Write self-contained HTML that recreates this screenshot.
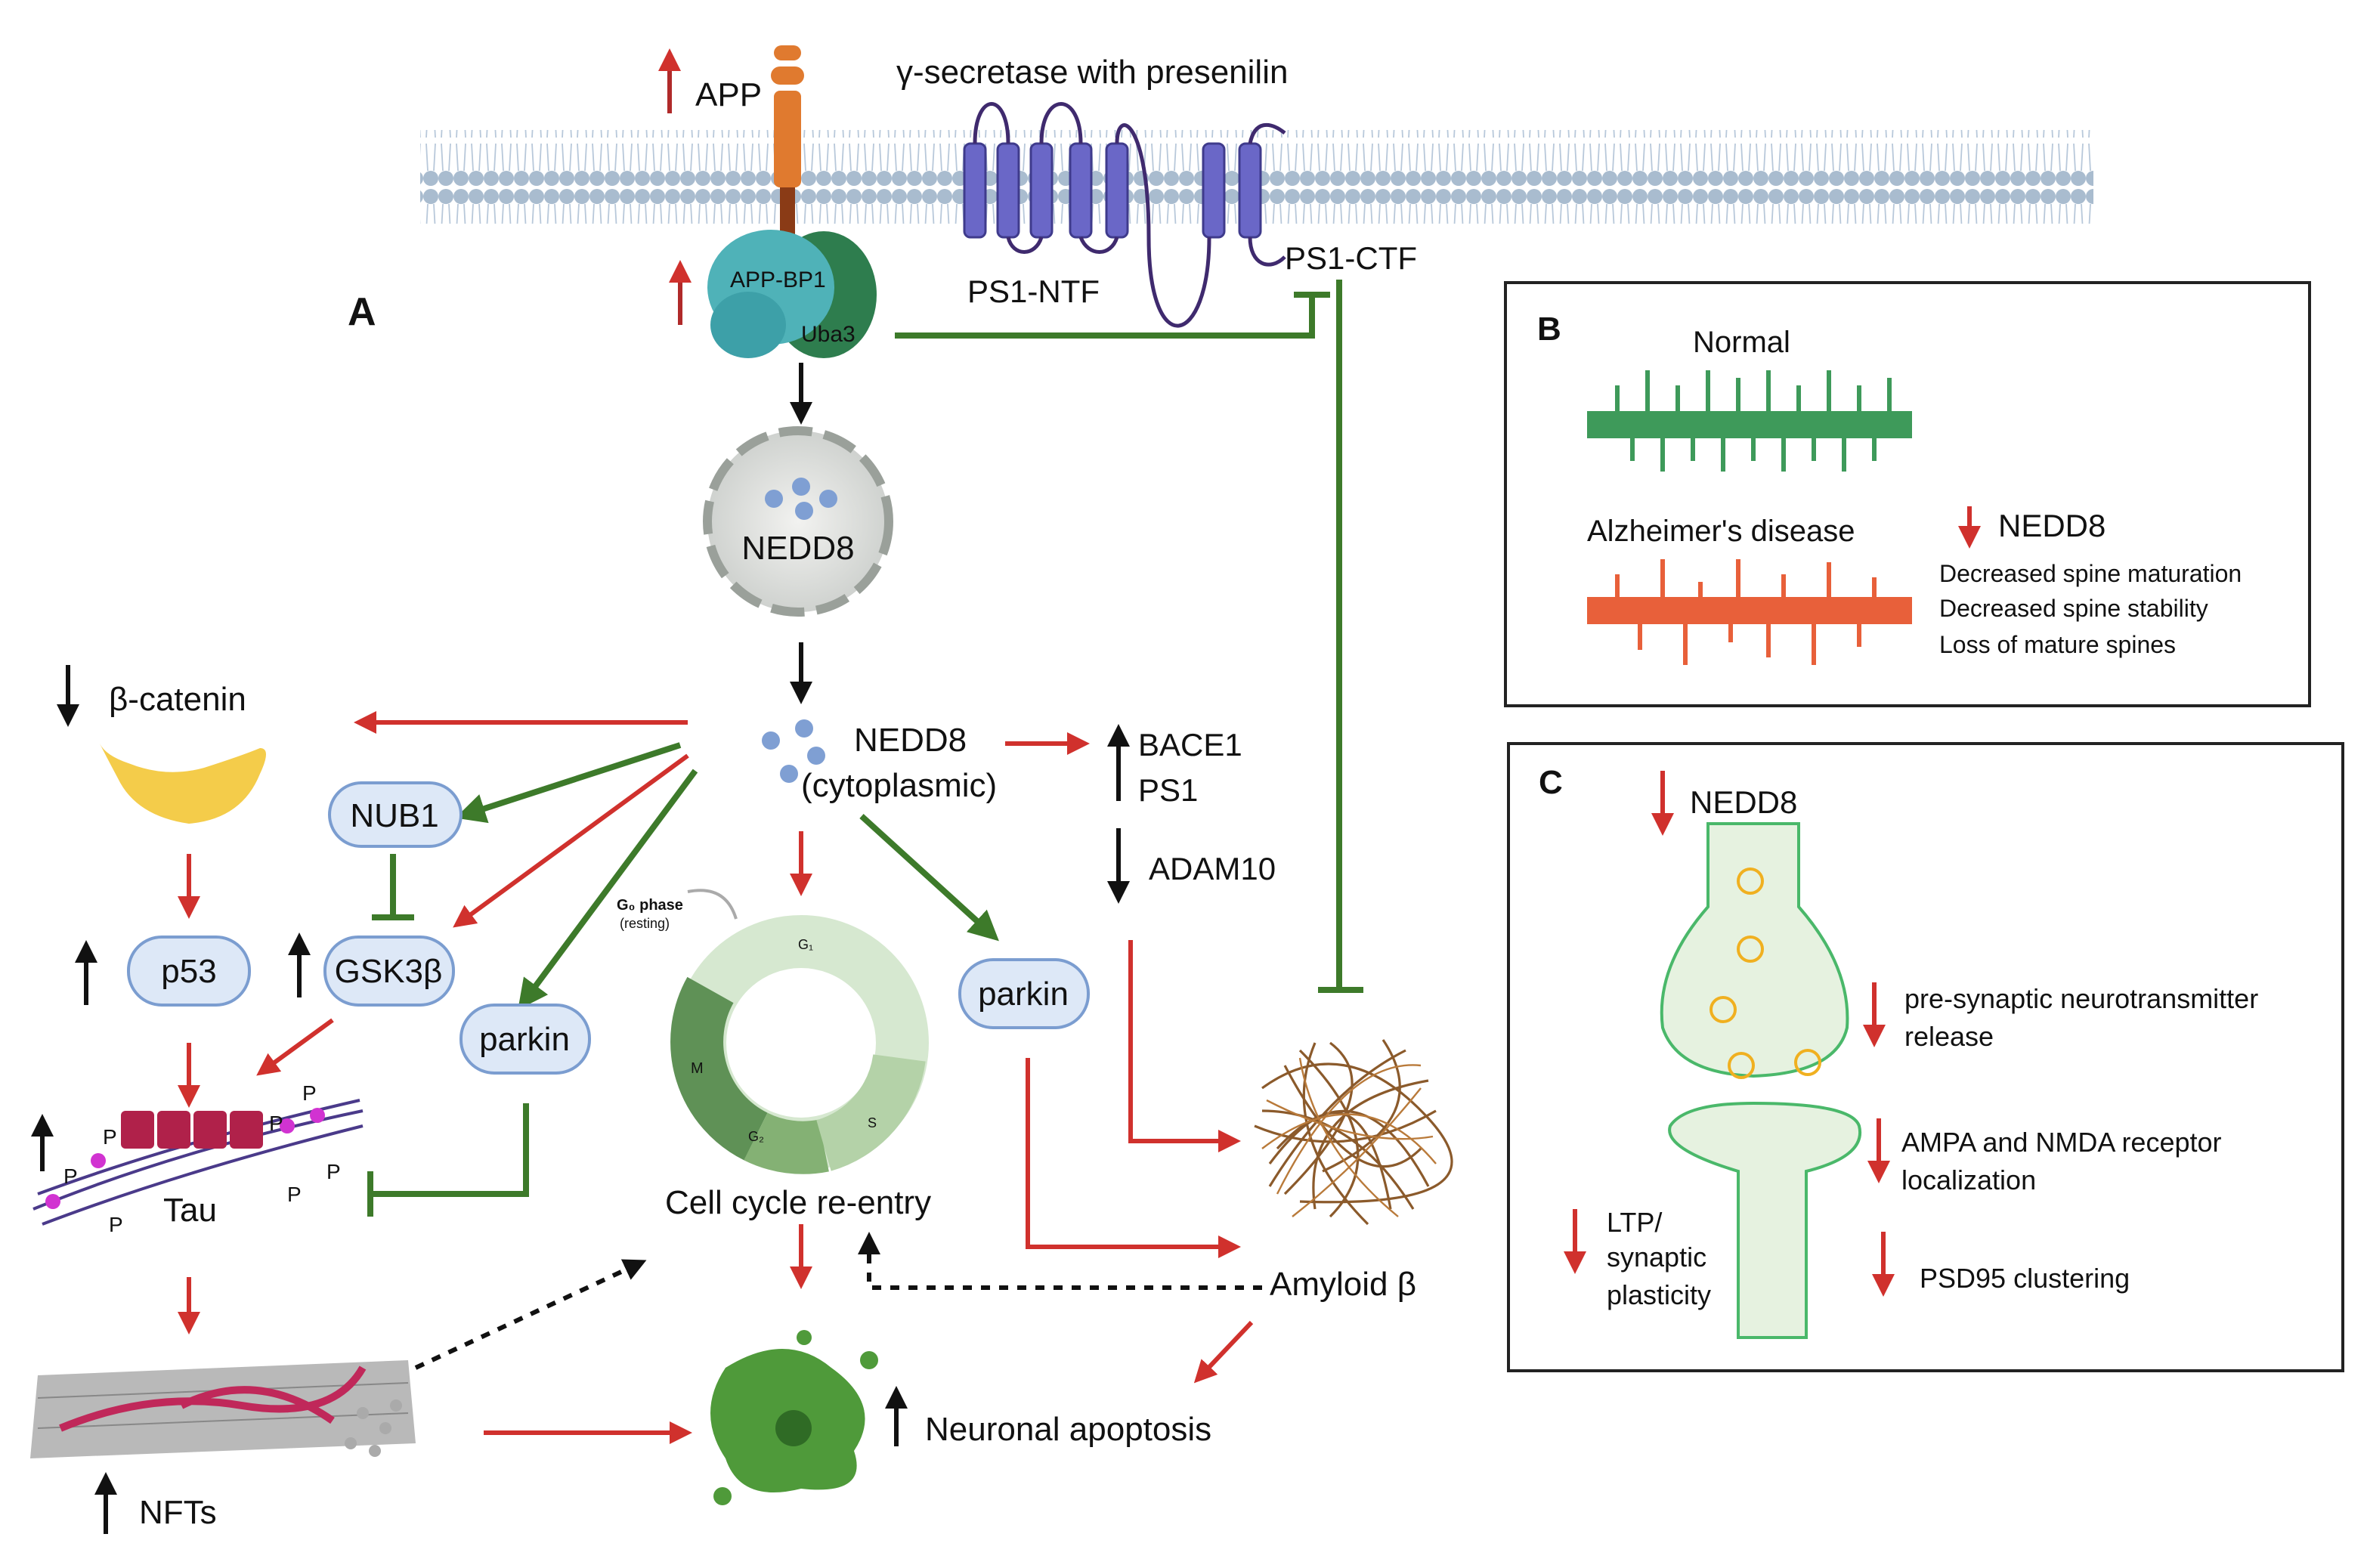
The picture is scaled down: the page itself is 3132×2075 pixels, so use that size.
<!DOCTYPE html>
<html><head><meta charset="utf-8"><style>
html,body{margin:0;padding:0;background:#fff;}
svg{display:block;}
text{font-family:"Liberation Sans","DejaVu Sans",sans-serif;fill:#111;}
</style></head><body>
<svg width="3132" height="2075" viewBox="0 0 1566 1037.5" xmlns="http://www.w3.org/2000/svg">
<defs>
<marker id="ar" viewBox="0 0 10 10" refX="8" refY="5" markerWidth="5" markerHeight="5" orient="auto"><path d="M0,0L10,5L0,10z" fill="#d0312d"/></marker>
<marker id="ab" viewBox="0 0 10 10" refX="8" refY="5" markerWidth="5" markerHeight="5" orient="auto"><path d="M0,0L10,5L0,10z" fill="#111"/></marker>
<marker id="ag" viewBox="0 0 10 10" refX="8" refY="5" markerWidth="5" markerHeight="5" orient="auto"><path d="M0,0L10,5L0,10z" fill="#3d7a2a"/></marker>
<pattern id="mem" width="10" height="62" patternUnits="userSpaceOnUse">
<circle cx="5" cy="6" r="5" fill="#a9bccf"/><circle cx="5" cy="56" r="5" fill="#a9bccf"/>
<path d="M3,11 L2,29 M7,11 L8,29 M3,51 L2,33 M7,51 L8,33" stroke="#b8c8da" stroke-width="0.9" fill="none"/>
</pattern>
<radialGradient id="ng"><stop offset="0" stop-color="#f2f2f0"/><stop offset="1" stop-color="#cfd2cf"/></radialGradient>
</defs>
<rect x="278" y="86" width="1107" height="62" fill="url(#mem)"/>
<!-- APP -->
<rect x="512" y="30" width="18" height="10" rx="5" fill="#e07a2f"/>
<rect x="510" y="44" width="22" height="12" rx="6" fill="#e07a2f"/>
<rect x="512" y="60" width="18" height="64" rx="4" fill="#e07a2f"/>
<rect x="516" y="124" width="10" height="36" fill="#8a3b16"/>
<path d="M443,75V35" stroke="#b02a2a" stroke-width="3" marker-end="url(#ar)"/>
<text x="460" y="70" font-size="22">APP</text>
<text x="593" y="55" font-size="22">γ-secretase with presenilin</text>
<g fill="#6a67c7" stroke="#3f3b8c" stroke-width="1.5">
<rect x="638" y="95" width="14" height="62" rx="4"/><rect x="660" y="95" width="14" height="62" rx="4"/>
<rect x="682" y="95" width="14" height="62" rx="4"/><rect x="708" y="95" width="14" height="62" rx="4"/>
<rect x="732" y="95" width="14" height="62" rx="4"/><rect x="796" y="95" width="14" height="62" rx="4"/>
<rect x="820" y="95" width="14" height="62" rx="4"/>
</g>
<path d="M645,95C645,60 667,60 667,95 M689,95C689,60 715,60 715,95 M739,95C739,70 760,80 760,157 C760,240 800,230 800,157 M827,95C830,80 840,80 850,88 M827,157C827,175 840,180 850,170 M667,157C670,170 685,170 689,157 M715,157 C720,170 735,170 739,157" stroke="#3f2a6e" stroke-width="2.5" fill="none"/>
<text x="640" y="200" font-size="21">PS1-NTF</text>
<text x="850" y="178" font-size="21">PS1-CTF</text>
<ellipse cx="545" cy="195" rx="35" ry="42" fill="#2e7d4e"/>
<ellipse cx="510" cy="190" rx="42" ry="38" fill="#4fb2b8"/>
<ellipse cx="495" cy="215" rx="25" ry="22" fill="#3da0a8"/>
<text x="483" y="190" font-size="15">APP-BP1</text>
<text x="530" y="226" font-size="15">Uba3</text>
<path d="M450,215V175" stroke="#b02a2a" stroke-width="3" marker-end="url(#ar)"/>
<text x="230" y="215" font-size="26" font-weight="bold">A</text>
<g stroke="#3d7a2a" stroke-width="4" fill="none">
<path d="M592,222H868V195"/><path d="M856,195H880"/>
<path d="M886,185V655"/><path d="M872,655H902"/>
<path d="M450,493L305,540" marker-end="url(#ag)"/>
<path d="M260,565V605"/><path d="M246,607H274"/>
<path d="M460,510L345,665" marker-end="url(#ag)"/>
<path d="M348,730V790H245"/><path d="M245,775V805"/>
<path d="M570,540L658,620" marker-end="url(#ag)"/>
</g>
<g stroke="#111" stroke-width="3" fill="none">
<path d="M530,240V278" marker-end="url(#ab)"/>
<path d="M530,425V463" marker-end="url(#ab)"/>
<path d="M740,530V482" marker-end="url(#ab)"/>
<path d="M740,548V595" marker-end="url(#ab)"/>
<path d="M593,957V920" marker-end="url(#ab)"/>
<path d="M70,1015V977" marker-end="url(#ab)"/>
<path d="M28,775V740" marker-end="url(#ab)"/>
<path d="M57,665V625" marker-end="url(#ab)"/>
<path d="M198,660V620" marker-end="url(#ab)"/>
<path d="M45,440V478" marker-end="url(#ab)"/>
<path d="M835,852H575V818" stroke-dasharray="6,6" marker-end="url(#ab)"/>
<path d="M275,905L425,835" stroke-dasharray="6,6" marker-end="url(#ab)"/>
</g>
<g stroke="#d0312d" stroke-width="3" fill="none">
<path d="M665,492H718" marker-end="url(#ar)"/>
<path d="M748,622V755H818" marker-end="url(#ar)"/>
<path d="M680,700V825H818" marker-end="url(#ar)"/>
<path d="M828,875L792,913" marker-end="url(#ar)"/>
<path d="M530,810V850" marker-end="url(#ar)"/>
<path d="M320,948H455" marker-end="url(#ar)"/>
<path d="M125,845V880" marker-end="url(#ar)"/>
<path d="M125,690V730" marker-end="url(#ar)"/>
<path d="M220,675L172,710" marker-end="url(#ar)"/>
<path d="M125,565V605" marker-end="url(#ar)"/>
<path d="M455,478H237" marker-end="url(#ar)"/>
<path d="M455,500L302,612" marker-end="url(#ar)"/>
<path d="M530,550V590" marker-end="url(#ar)"/>
</g>
<circle cx="528" cy="345" r="60" fill="url(#ng)" stroke="#9aa09a" stroke-width="6" stroke-dasharray="22,8"/>
<g fill="#7f9fd3"><circle cx="512" cy="330" r="6"/><circle cx="530" cy="322" r="6"/><circle cx="548" cy="330" r="6"/><circle cx="532" cy="338" r="6"/></g>
<text x="528" y="370" font-size="22" text-anchor="middle">NEDD8</text>
<g fill="#7f9fd3"><circle cx="510" cy="490" r="6"/><circle cx="532" cy="482" r="6"/><circle cx="540" cy="500" r="6"/><circle cx="522" cy="512" r="6"/></g>
<text x="565" y="497" font-size="22">NEDD8</text>
<text x="530" y="527" font-size="22">(cytoplasmic)</text>
<text x="753" y="500" font-size="21">BACE1</text>
<text x="753" y="530" font-size="21">PS1</text>
<text x="760" y="582" font-size="21">ADAM10</text>
<!-- amyloid tangle -->
<g stroke="#8b5a2b" stroke-width="1.6" fill="none">
<path d="M835,720Q890,680 945,740T860,795M845,760Q900,700 945,785M860,695Q925,760 880,805M840,785Q880,720 930,695M870,690Q845,750 905,810M915,688Q950,740 875,775M830,745Q890,770 950,735M850,705Q900,800 940,760M840,770Q900,690 920,800M870,800Q860,730 945,715M835,735Q895,735 935,800M880,690Q920,720 850,790"/>
</g>
<g stroke="#b97a3a" stroke-width="1.2" fill="none">
<path d="M838,728Q900,760 948,752M845,790Q890,700 940,705M860,700Q870,760 925,805M835,760Q900,710 950,770M855,805Q900,770 940,720"/>
</g>
<text x="840" y="857" font-size="22">Amyloid β</text>
<circle cx="530" cy="690" r="67" fill="none" stroke="#d6e8d0" stroke-width="35"/>
<path d="M470,655A70,70 0 0 0 500,752" stroke="#5f9156" stroke-width="35" fill="none"/>
<path d="M500,752A70,70 0 0 0 545,758" stroke="#84b174" stroke-width="35" fill="none"/>
<path d="M545,758A70,70 0 0 0 595,700" stroke="#b4d2a8" stroke-width="35" fill="none"/>
<text x="528" y="628" font-size="9">G₁</text><text x="574" y="746" font-size="9">S</text>
<text x="495" y="755" font-size="9">G₂</text><text x="457" y="710" font-size="10">M</text>
<text x="408" y="602" font-size="10" font-weight="bold">G₀ phase</text>
<text x="410" y="614" font-size="9" fill="#666">(resting)</text>
<path d="M455,590Q480,585 487,608" stroke="#aaa" stroke-width="2" fill="none"/>
<text x="440" y="803" font-size="22">Cell cycle re-entry</text>
<path d="M480,905Q520,880 550,905Q585,930 565,960Q575,990 530,985Q490,995 480,965Q460,935 480,905z" fill="#4f9a3a"/>
<circle cx="525" cy="945" r="12" fill="#2f6b25"/>
<circle cx="478" cy="990" r="6" fill="#4f9a3a"/><circle cx="575" cy="900" r="6" fill="#4f9a3a"/><circle cx="532" cy="885" r="5" fill="#4f9a3a"/>
<text x="612" y="953" font-size="22">Neuronal apoptosis</text>
<path d="M25,910L270,900L275,955L20,965z" fill="#b9b9b9"/>
<path d="M25,925L270,915M25,945L270,935" stroke="#888" stroke-width="1"/>
<path d="M40,945Q100,920 160,930T240,905M120,930Q170,905 220,940" stroke="#c0285a" stroke-width="5" fill="none"/>
<g fill="#aaa"><circle cx="240" cy="935" r="4"/><circle cx="255" cy="945" r="4"/><circle cx="248" cy="960" r="4"/><circle cx="262" cy="930" r="4"/><circle cx="232" cy="955" r="4"/></g>
<text x="92" y="1008" font-size="22">NFTs</text>
<g stroke="#4a3a8a" stroke-width="2" fill="none">
<path d="M22,800Q120,760 240,735M25,790Q120,755 238,728M28,810Q120,775 240,745"/>
</g>
<g fill="#b0214a"><rect x="80" y="735" width="22" height="25" rx="3"/><rect x="104" y="735" width="22" height="25" rx="3"/><rect x="128" y="735" width="22" height="25" rx="3"/><rect x="152" y="735" width="22" height="25" rx="3"/></g>
<g fill="#d133d1"><circle cx="35" cy="795" r="5"/><circle cx="65" cy="768" r="5"/><circle cx="190" cy="745" r="5"/><circle cx="210" cy="738" r="5"/></g>
<g font-size="14"><text x="68" y="757">P</text><text x="42" y="783">P</text><text x="72" y="815">P</text><text x="178" y="748">P</text><text x="200" y="728">P</text><text x="216" y="780">P</text><text x="190" y="795">P</text></g>
<text x="108" y="808" font-size="22">Tau</text>
<g fill="#dde8f7" stroke="#7b9dd0" stroke-width="2">
<rect x="85" y="620" width="80" height="45" rx="22"/>
<rect x="215" y="620" width="85" height="45" rx="22"/>
<rect x="218" y="518" width="87" height="42" rx="21"/>
<rect x="305" y="665" width="85" height="45" rx="22"/>
<rect x="635" y="635" width="85" height="45" rx="22"/>
</g>
<text x="125" y="650" font-size="22" text-anchor="middle">p53</text>
<text x="257" y="650" font-size="22" text-anchor="middle">GSK3β</text>
<text x="261" y="547" font-size="22" text-anchor="middle">NUB1</text>
<text x="347" y="695" font-size="22" text-anchor="middle">parkin</text>
<text x="677" y="665" font-size="22" text-anchor="middle">parkin</text>
<path d="M66,492Q70,500 85,505Q110,515 135,508Q160,500 172,495Q180,495 172,512Q160,542 125,545Q90,540 78,515Q70,500 66,492z" fill="#f4cc4a"/>
<text x="72" y="470" font-size="22">β-catenin</text>
<rect x="996" y="187" width="532" height="280" fill="none" stroke="#222" stroke-width="2"/>
<text x="1017" y="225" font-size="22" font-weight="bold">B</text>
<text x="1120" y="233" font-size="20">Normal</text>
<rect x="1050" y="272" width="215" height="18" fill="#3e9a5a"/>
<g stroke="#3e9a5a" stroke-width="3"><path d="M1070,272V255M1090,272V245M1110,272V255M1130,272V245M1150,272V250M1170,272V245M1190,272V255M1210,272V245M1230,272V255M1250,272V250M1080,290V305M1100,290V312M1120,290V305M1140,290V312M1160,290V305M1180,290V312M1200,290V305M1220,290V312M1240,290V305"/></g>
<text x="1050" y="358" font-size="20">Alzheimer's disease</text>
<rect x="1050" y="395" width="215" height="18" fill="#e8603a"/>
<g stroke="#e8603a" stroke-width="3"><path d="M1070,395V380M1100,395V370M1125,395V385M1150,395V370M1180,395V380M1210,395V372M1240,395V382M1085,413V430M1115,413V440M1145,413V425M1170,413V435M1200,413V440M1230,413V428"/></g>
<path d="M1303,335V360" stroke="#d0312d" stroke-width="3" marker-end="url(#ar)"/>
<text x="1322" y="355" font-size="21">NEDD8</text>
<text x="1283" y="385" font-size="16">Decreased spine maturation</text>
<text x="1283" y="408" font-size="16">Decreased  spine stability</text>
<text x="1283" y="432" font-size="16">Loss of mature spines</text>
<rect x="998" y="492" width="552" height="415" fill="none" stroke="#222" stroke-width="2"/>
<text x="1018" y="525" font-size="22" font-weight="bold">C</text>
<path d="M1100,510V550" stroke="#d0312d" stroke-width="3" marker-end="url(#ar)"/>
<text x="1118" y="538" font-size="21">NEDD8</text>
<path d="M1130,545V600Q1095,640 1100,680Q1110,710 1160,712Q1215,710 1222,680Q1225,640 1190,600V545z" fill="#e6f2e0" stroke="#4ab86a" stroke-width="2"/>
<g fill="none" stroke="#f0b020" stroke-width="2"><circle cx="1158" cy="583" r="8"/><circle cx="1158" cy="628" r="8"/><circle cx="1140" cy="668" r="8"/><circle cx="1152" cy="705" r="8"/><circle cx="1196" cy="703" r="8"/></g>
<path d="M1150,885V775Q1100,760 1105,745Q1115,730 1160,730Q1225,730 1230,745Q1235,765 1195,775V885z" fill="#e6f2e0" stroke="#4ab86a" stroke-width="2"/>
<g stroke="#d0312d" stroke-width="3" fill="none">
<path d="M1240,650V690" marker-end="url(#ar)"/><path d="M1243,740V780" marker-end="url(#ar)"/>
<path d="M1042,800V840" marker-end="url(#ar)"/><path d="M1246,815V855" marker-end="url(#ar)"/>
</g>
<g font-size="18">
<text x="1260" y="667">pre-synaptic neurotransmitter</text><text x="1260" y="692">release</text>
<text x="1258" y="762">AMPA and NMDA receptor</text><text x="1258" y="787">localization</text>
<text x="1063" y="815">LTP/</text><text x="1063" y="838">synaptic</text><text x="1063" y="863">plasticity</text>
<text x="1270" y="852">PSD95 clustering</text>
</g>
</svg>
</body></html>
